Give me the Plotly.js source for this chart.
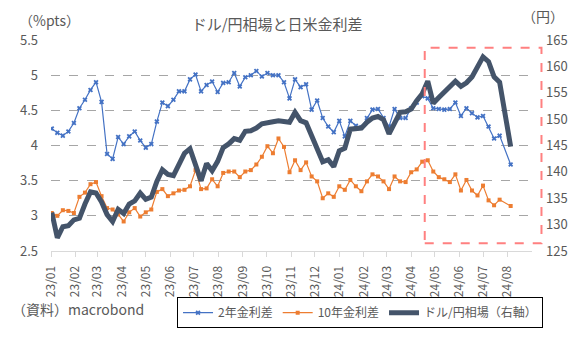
<!DOCTYPE html>
<html>
<head>
<meta charset="utf-8">
<script src="https://cdn.plot.ly/plotly-3.0.1.min.js"></script>
<style>
html,body{margin:0;padding:0;background:#fff;}
#chart{width:586px;height:340px;}
</style>
</head>
<body>
<div id="chart"></div>
<script>
// weekly dates (one week, 2024-07-29, is absent in the source)
var dates = [
 "2023-01-02","2023-01-09","2023-01-16","2023-01-23","2023-01-30",
 "2023-02-06","2023-02-13","2023-02-20","2023-02-27",
 "2023-03-06","2023-03-13","2023-03-20","2023-03-27",
 "2023-04-03","2023-04-10","2023-04-17","2023-04-24",
 "2023-05-01","2023-05-08","2023-05-15","2023-05-22","2023-05-29",
 "2023-06-05","2023-06-12","2023-06-19","2023-06-26",
 "2023-07-03","2023-07-10","2023-07-17","2023-07-24","2023-07-31",
 "2023-08-07","2023-08-14","2023-08-21","2023-08-28",
 "2023-09-04","2023-09-11","2023-09-18","2023-09-25",
 "2023-10-02","2023-10-09","2023-10-16","2023-10-23","2023-10-30",
 "2023-11-06","2023-11-13","2023-11-20","2023-11-27",
 "2023-12-04","2023-12-11","2023-12-18","2023-12-25",
 "2024-01-01","2024-01-08","2024-01-15","2024-01-22","2024-01-29",
 "2024-02-05","2024-02-12","2024-02-19","2024-02-26",
 "2024-03-04","2024-03-11","2024-03-18","2024-03-25",
 "2024-04-01","2024-04-08","2024-04-15","2024-04-22","2024-04-29",
 "2024-05-06","2024-05-13","2024-05-20","2024-05-27",
 "2024-06-03","2024-06-10","2024-06-17","2024-06-24",
 "2024-07-01","2024-07-08","2024-07-15","2024-07-22",
 "2024-08-05"
];

var spread2y = [
 4.24,4.18,4.14,4.20,4.32,4.53,4.65,4.79,4.90,4.62,3.88,3.81,4.12,4.02,4.13,4.20,4.07,
 3.97,4.02,4.34,4.61,4.56,4.65,4.77,4.77,4.94,5.01,4.77,4.86,4.91,4.76,4.89,4.90,5.03,
 4.84,4.97,5.00,5.06,4.98,5.03,5.00,5.00,4.90,4.67,4.94,4.83,4.87,4.51,4.64,4.39,4.27,
 4.19,4.35,4.13,4.35,4.28,4.26,4.39,4.51,4.52,4.39,4.27,4.52,4.39,4.39,4.53,4.61,4.70,
 4.67,4.53,4.52,4.51,4.52,4.61,4.42,4.53,4.46,4.40,4.42,4.27,4.10,4.14,
 3.73
];

var spread10y = [
 3.04,3.00,3.08,3.07,3.04,3.27,3.33,3.45,3.48,3.28,3.11,3.09,3.02,2.92,3.05,3.11,2.99,
 3.05,3.09,3.34,3.38,3.28,3.32,3.36,3.37,3.42,3.65,3.38,3.39,3.52,3.42,3.61,3.63,3.63,
 3.55,3.63,3.65,3.73,3.84,3.99,3.89,4.10,3.98,3.62,3.79,3.65,3.76,3.56,3.49,3.25,3.32,
 3.27,3.42,3.37,3.51,3.42,3.35,3.49,3.59,3.56,3.49,3.38,3.56,3.49,3.48,3.62,3.66,3.77,
 3.79,3.63,3.55,3.52,3.48,3.59,3.36,3.51,3.36,3.29,3.43,3.22,3.15,3.23,
 3.14
];

var usdjpy = [
 132.3,127.5,129.6,129.8,130.9,131.2,133.9,136.2,136.0,134.3,131.9,130.6,132.9,132.1,133.9,134.5,136.0,
 134.8,135.2,138.2,140.4,139.5,139.3,141.6,143.5,144.4,141.6,138.3,141.6,140.2,142.0,144.6,145.3,146.3,
 146.0,147.7,147.8,148.3,149.1,149.2,149.5,149.7,149.5,149.4,151.3,149.7,149.3,147.0,144.3,141.9,142.3,
 141.0,144.0,144.5,148.1,148.2,148.3,149.4,150.2,150.5,149.9,147.2,149.4,151.3,151.4,151.9,153.5,154.8,
 157.2,153.0,154.1,155.2,156.2,157.2,156.2,156.9,158.0,159.7,161.8,160.9,158.0,157.0,
 144.8
];

var monthTicks = ["2023-01-01","2023-02-01","2023-03-01","2023-04-01","2023-05-01","2023-06-01",
 "2023-07-01","2023-08-01","2023-09-01","2023-10-01","2023-11-01","2023-12-01",
 "2024-01-01","2024-02-01","2024-03-01","2024-04-01","2024-05-01","2024-06-01",
 "2024-07-01","2024-08-01"];
var monthLabels = ["23/01","23/02","23/03","23/04","23/05","23/06","23/07","23/08","23/09","23/10",
 "23/11","23/12","24/01","24/02","24/03","24/04","24/05","24/06","24/07","24/08"];

var seriesNames = ["2年金利差","10年金利差","ドル/円相場（右軸）"];

var FONT = "'Noto Sans CJK JP', 'Noto Sans', sans-serif";
var GRAY = "#595959";

var traces = [
 {x: dates, y: spread2y, name: seriesNames[0], type: "scatter", mode: "lines+markers",
  line: {color: "#4472C4", width: 1.2},
  marker: {symbol: "x", size: 4.5, color: "#4472C4"}, yaxis: "y"},
 {x: dates, y: spread10y, name: seriesNames[1], type: "scatter", mode: "lines+markers",
  line: {color: "#ED7D31", width: 1.2},
  marker: {symbol: "square", size: 4, color: "#ED7D31"}, yaxis: "y"},
 {x: dates, y: usdjpy, name: seriesNames[2], type: "scatter", mode: "lines",
  line: {color: "#44546A", width: 5}, yaxis: "y2"}
];

var layout = {
 width: 586, height: 340,
 margin: {l: 50.7, r: 53.5, t: 40, b: 85, pad: 0},
 paper_bgcolor: "#ffffff", plot_bgcolor: "#ffffff",
 font: {family: FONT, color: GRAY, size: 12},
 showlegend: true,
 title: {text: "ドル/円相場と日米金利差", x: 0.473, xanchor: "center", y: 0.928, yanchor: "middle",
  font: {family: FONT, size: 15, color: GRAY}},
 xaxis: {type: "date", range: ["2023-01-01", "2024-09-01"],
  tickmode: "array", tickvals: monthTicks, ticktext: monthLabels, tickangle: -90,
  ticks: "outside", ticklen: 5, tickcolor: "#d9d9d9", showline: true, linecolor: "#d9d9d9", linewidth: 1,
  ticklabelstandoff: 4,
  showgrid: false, zeroline: false, tickfont: {size: 12, color: GRAY}, fixedrange: true},
 yaxis: {range: [2.5, 5.5], dtick: 0.5, tick0: 2.5, showgrid: true, gridcolor: "#a6a6a6", griddash: "dash",
  gridwidth: 1, zeroline: false, showline: false, ticks: "", ticklabelstandoff: 12,
  tickfont: {size: 13, color: GRAY}},
 yaxis2: {range: [125, 165], dtick: 5, tick0: 125, overlaying: "y", side: "right", showgrid: false,
  zeroline: false, showline: false, ticks: "", ticklabelstandoff: 13, tickfont: {size: 13, color: GRAY}},
 legend: {orientation: "h", x: 0.262, y: -0.219, xanchor: "left", yanchor: "top",
  bordercolor: "#000000", borderwidth: 1, font: {size: 12, color: GRAY, family: FONT},
  bgcolor: "#ffffff", itemclick: false, tracegroupgap: 0},
 shapes: [
  {type: "rect", xref: "paper", yref: "paper", x0: 0.777, x1: 1.0197, y0: 0.037, y1: 0.963,
   line: {color: "#FF8080", width: 2, dash: "dash"}, fillcolor: "rgba(0,0,0,0)", layer: "above"}
 ],
 annotations: [
  {text: "（%pts）", xref: "paper", yref: "paper", x: -0.07, y: 1.093, xanchor: "left", yanchor: "middle",
   showarrow: false, font: {size: 14, color: GRAY, family: FONT}},
  {text: "（円）", xref: "paper", yref: "paper", x: 0.975, y: 1.112, xanchor: "left", yanchor: "middle",
   showarrow: false, font: {size: 14, color: GRAY, family: FONT}},
  {text: "（資料）macrobond", xref: "paper", yref: "paper", x: -0.085, y: -0.274, xanchor: "left", yanchor: "middle",
   showarrow: false, font: {size: 14, color: GRAY, family: FONT}}
 ]
};

Plotly.newPlot("chart", traces, layout, {staticPlot: true, displayModeBar: false});
</script>
</body>
</html>
